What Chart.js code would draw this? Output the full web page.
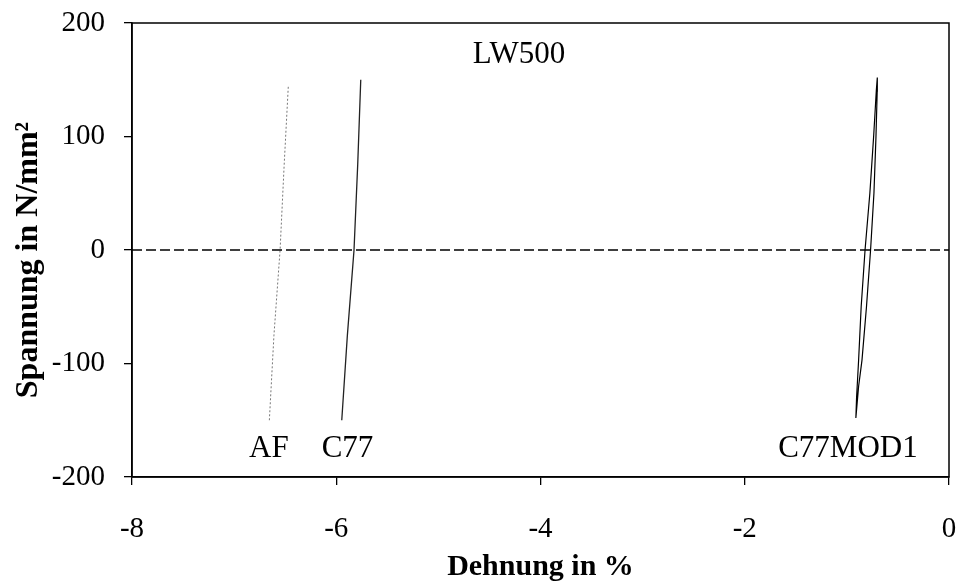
<!DOCTYPE html>
<html>
<head>
<meta charset="utf-8">
<title>LW500</title>
<script src="https://cdn.jsdelivr.net/npm/chart.js@4/dist/chart.umd.min.js"></script>
<style>
  html, body { margin: 0; padding: 0; background: #fff; }
  #wrap { width: 959px; height: 585px; }
</style>
</head>
<body>
<div id="wrap"><canvas id="lwChart" width="959" height="585"></canvas></div>
<script>
// Hysteresis curves, strain in %, stress in N/mm²
const afStrain = [-6.655, -6.61, -6.55, -6.51, -6.469];
const afStress = [-150, -75, 0, 75, 145];

const c77Strain = [-5.946, -5.891, -5.826, -5.79, -5.760];
const c77Stress = [-150, -75, 0, 75, 150];

// loading branch up, then unloading branch back down
const modStrain = [-0.912, -0.885, -0.852, -0.808, -0.768, -0.735, -0.715, -0.703, -0.702,
                   -0.712, -0.738, -0.775, -0.822, -0.860, -0.885, -0.905, -0.912];
const modStress = [-148, -120, -97, -50, 0, 50, 100, 140, 152,
                   140, 100, 50, 0, -50, -97, -130, -148];

const zeroStrain = [-8, 0];
const zeroStress = [0, 0];

const xTicks = [-8, -6, -4, -2, 0];
const yTicks = [-200, -100, 0, 100, 200];

// curve labels: text, strain, stress (baseline)
const curveLabels = ['LW500', 'AF', 'C77', 'C77MOD1'];
const labelStrain = [-4.21, -6.66, -5.89, -0.99];
const labelStress = [165, -182, -182, -182];

const yTitle = 'Spannung in N/mm²';

const serif = '"Liberation Serif", "Times New Roman", serif';

function toPoints(xs, ys) {
    return xs.map((x, i) => ({ x: x, y: ys[i] }));
}

// box around the plot area, the curve names and the stress axis title
const framePlugin = {
    id: 'frame',
    afterDatasetsDraw(chart) {
        const { ctx, chartArea, scales } = chart;
        ctx.save();
        ctx.strokeStyle = '#000';
        ctx.lineWidth = 1.5;
        ctx.strokeRect(chartArea.left, chartArea.top, chartArea.right - chartArea.left, chartArea.bottom - chartArea.top);

        ctx.fillStyle = '#000';
        ctx.font = '31px ' + serif;
        ctx.textAlign = 'center';
        ctx.textBaseline = 'alphabetic';
        curveLabels.forEach((txt, i) => {
            const px = scales.x.getPixelForValue(labelStrain[i]);
            const py = scales.y.getPixelForValue(labelStress[i]);
            ctx.fillText(txt, px, py);
        });

        // rotated title, sits a bit below the axis middle
        ctx.font = 'bold 32px ' + serif;
        ctx.translate(37, 260);
        ctx.rotate(-Math.PI / 2);
        ctx.fillText(yTitle, 0, 0);
        ctx.restore();
    }
};

const ctx = document.getElementById('lwChart').getContext('2d');

const lwChart = new Chart(ctx, {
    type: 'scatter',
    data: {
        datasets: [
            {
                label: 'Null',
                data: toPoints(zeroStrain, zeroStress),
                showLine: true,
                borderColor: '#000',
                borderWidth: 1.6,
                borderDash: [10, 4],
                pointRadius: 0
            },
            {
                label: 'AF',
                data: toPoints(afStrain, afStress),
                showLine: true,
                borderColor: '#777',
                borderWidth: 1,
                borderDash: [2, 2],
                pointRadius: 0
            },
            {
                label: 'C77',
                data: toPoints(c77Strain, c77Stress),
                showLine: true,
                borderColor: '#222',
                borderWidth: 1.3,
                pointRadius: 0
            },
            {
                label: 'C77MOD1',
                data: toPoints(modStrain, modStress),
                showLine: true,
                borderColor: '#000',
                borderWidth: 1.2,
                tension: 0,
                pointRadius: 0
            }
        ]
    },
    options: {
        responsive: false,
        animation: false,
        layout: { padding: { top: 23, right: 10, left: 0, bottom: 0 } },
        plugins: {
            legend: { display: false },
            tooltip: { enabled: false }
        },
        scales: {
            x: {
                type: 'linear',
                min: -8,
                max: 0,
                afterFit: scale => {
                    scale.height = 108;
                    scale.paddingLeft = 0;
                    scale.paddingRight = 0;
                },
                afterBuildTicks: scale => { scale.ticks = xTicks.map(v => ({ value: v })); },
                grid: { drawOnChartArea: false, drawTicks: true, tickLength: 8, color: '#000', lineWidth: 1.3 },
                border: { display: true, color: '#000', width: 1.5 },
                ticks: {
                    color: '#000',
                    padding: 27,
                    maxRotation: 0,
                    font: { family: serif, size: 29 }
                },
                title: {
                    display: true,
                    text: 'Dehnung in %',
                    color: '#000',
                    padding: { top: 0, bottom: 0 },
                    font: { family: serif, size: 30, weight: 'bold' }
                }
            },
            y: {
                type: 'linear',
                min: -200,
                max: 200,
                afterFit: scale => {
                    scale.width = 132;
                    scale.paddingTop = 0;
                    scale.paddingBottom = 0;
                },
                afterBuildTicks: scale => { scale.ticks = yTicks.map(v => ({ value: v })); },
                grid: { drawOnChartArea: false, drawTicks: true, tickLength: 8, color: '#000', lineWidth: 1.3 },
                border: { display: true, color: '#000', width: 1.5 },
                ticks: {
                    color: '#000',
                    padding: 19,
                    font: { family: serif, size: 29 }
                },
                title: { display: false }
            }
        }
    },
    plugins: [framePlugin]
});
</script>
</body>
</html>
